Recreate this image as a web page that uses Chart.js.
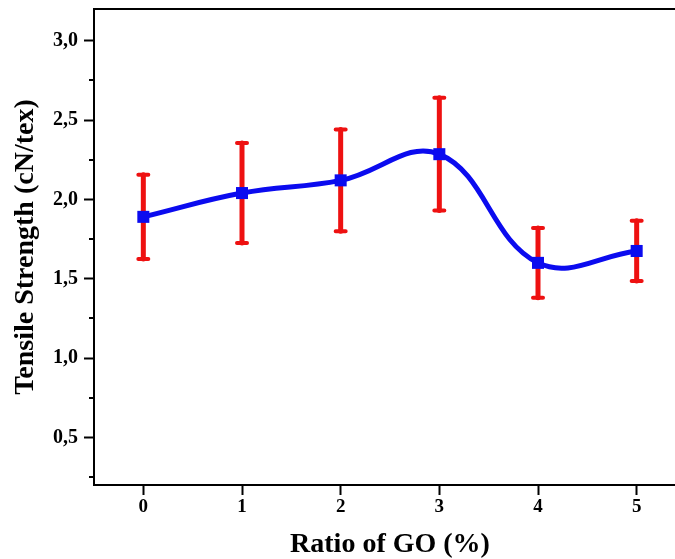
<!DOCTYPE html>
<html>
<head>
<meta charset="utf-8">
<script src="https://cdn.jsdelivr.net/npm/chart.js@4"></script>
<style>
  html, body { margin: 0; padding: 0; background: #fff; overflow: hidden; width: 675px; height: 559px; }
  #wrap { width: 700px; height: 559px; }
</style>
</head>
<body>
<div id="wrap"><canvas id="c" width="700" height="559"></canvas></div>
<script>
// GO content (%) and measured tensile strength (cN/tex) with standard deviations
const goRatio = [0, 1, 2, 3, 4, 5];
const strength = [1.89, 2.04, 2.12, 2.285, 1.60, 1.675];
const strengthSd = [0.265, 0.315, 0.32, 0.355, 0.22, 0.19];

// axis ticks
const xTicks = [0, 1, 2, 3, 4, 5];
const yTicks = [0.5, 1.0, 1.5, 2.0, 2.5, 3.0];
const yMinorTicks = [0.25, 0.75, 1.25, 1.75, 2.25, 2.75];

const serif = 'Liberation Serif, Times New Roman, serif';

// red error bars with end caps, drawn beneath the blue curve
const errorBars = {
  id: 'errorBars',
  beforeDatasetsDraw(chart) {
    const { ctx, scales: { x, y } } = chart;
    ctx.save();
    ctx.strokeStyle = '#ee1111';
    ctx.lineCap = 'round';
    goRatio.forEach((g, i) => {
      const px = x.getPixelForValue(g);
      const top = y.getPixelForValue(strength[i] + strengthSd[i]);
      const bot = y.getPixelForValue(strength[i] - strengthSd[i]);
      ctx.lineWidth = 5;
      ctx.beginPath();
      ctx.moveTo(px, top);
      ctx.lineTo(px, bot);
      ctx.stroke();
      ctx.lineWidth = 4;
      ctx.beginPath();
      ctx.moveTo(px - 5, top); ctx.lineTo(px + 5, top);
      ctx.moveTo(px - 5, bot); ctx.lineTo(px + 5, bot);
      ctx.stroke();
    });
    ctx.restore();
  }
};

// top/right frame and short minor ticks on the y axis
const frame = {
  id: 'frame',
  afterDraw(chart) {
    const { ctx, chartArea: a, scales: { y } } = chart;
    ctx.save();
    ctx.strokeStyle = '#000';
    ctx.lineWidth = 2;
    ctx.beginPath();
    ctx.moveTo(a.left, a.top);
    ctx.lineTo(a.right, a.top);
    ctx.lineTo(a.right, a.bottom);
    ctx.stroke();
    ctx.beginPath();
    yMinorTicks.forEach(v => {
      const py = Math.round(y.getPixelForValue(v));
      ctx.moveTo(a.left - 5, py);
      ctx.lineTo(a.left, py);
    });
    ctx.stroke();
    ctx.restore();
  }
};

new Chart(document.getElementById('c'), {
  type: 'line',
  data: {
    datasets: [{
      data: goRatio.map((g, i) => ({ x: g, y: strength[i] })),
      borderColor: '#0b0bef',
      backgroundColor: '#0b0bef',
      borderWidth: 5,
      tension: 0.4,
      fill: false,
      pointStyle: 'rect',
      pointRadius: 8.5,
      pointBorderWidth: 0,
      pointBackgroundColor: '#0b0bef'
    }]
  },
  options: {
    responsive: false,
    animation: false,
    devicePixelRatio: 1,
    layout: { padding: { top: 9, right: 14, left: 0, bottom: 0 } },
    plugins: { legend: { display: false }, tooltip: { enabled: false } },
    scales: {
      x: {
        type: 'linear',
        min: -0.5,
        max: 5.5,
        afterBuildTicks: s => { s.ticks = xTicks.map(v => ({ value: v })); },
        afterFit: s => { s.height = 74; s.paddingLeft = 0; s.paddingRight = 0; },
        grid: { drawOnChartArea: false, drawTicks: true, tickLength: 10, tickWidth: 2, tickColor: '#000' },
        border: { display: true, color: '#000', width: 2 },
        ticks: {
          color: '#000', padding: 1, maxRotation: 0,
          font: { family: serif, weight: 'bold', size: 19 },
          callback: v => String(v)
        },
        title: {
          display: true, text: 'Ratio of GO (%)', color: '#000',
          font: { family: serif, weight: 'bold', size: 28, lineHeight: 1 },
          padding: { top: 0, bottom: 0 }
        }
      },
      y: {
        type: 'linear',
        min: 0.2,
        max: 3.2,
        afterBuildTicks: s => { s.ticks = yTicks.map(v => ({ value: v })); },
        afterFit: s => { s.width = 94; s.paddingTop = 0; s.paddingBottom = 0; },
        grid: { drawOnChartArea: false, drawTicks: true, tickLength: 10, tickWidth: 2, tickColor: '#000' },
        border: { display: true, color: '#000', width: 2 },
        ticks: {
          color: '#000', padding: 6,
          font: { family: serif, weight: 'bold', size: 20 },
          callback: v => Number(v).toFixed(1).replace('.', ',')
        },
        title: {
          display: true, text: 'Tensile Strength (cN/tex)', color: '#000',
          font: { family: serif, weight: 'bold', size: 28, lineHeight: 1 },
          padding: { top: 12, bottom: 0 }
        }
      }
    }
  },
  plugins: [errorBars, frame]
});
</script>
</body>
</html>
